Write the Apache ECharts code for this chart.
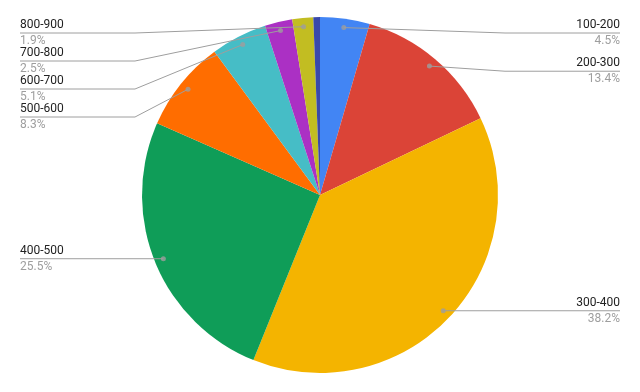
<!DOCTYPE html>
<html><head><meta charset="utf-8">
<script src="https://cdn.jsdelivr.net/npm/echarts@6/dist/echarts.min.js"></script>
<style>html,body{margin:0;padding:0;background:#fff}#c{width:640px;height:392px}</style>
</head><body><div id="c"></div>
<script>
const categories = ['100-200','200-300','300-400','400-500','500-600','600-700','700-800','800-900','900-1000'];
const values = [4.5, 13.4, 38.2, 25.5, 8.3, 5.1, 2.5, 1.9, 0.6];
const colors = ['#4285f4','#db4437','#f4b400','#0f9d58','#ff6d00','#46bdc6','#ab30c4','#c2bd22','#3949ab'];
const labeled = [true, true, true, true, true, true, true, true, false];

const CX = 320, CY = 195, R = 178, DOT = 0.95, TOP = 19;
const chart = echarts.init(document.getElementById('c'));
const total = values.reduce((a, b) => a + b, 0);
let acc = 0;
const dots = [];
const mids = [];
values.forEach((v, i) => {
  const mid = acc + v / 2; acc += v;
  mids.push(mid / total * 100);
  if (labeled[i]) dots.push([DOT, mid / total * 100]);
});

const pieBase = {
  type: 'pie',
  top: TOP, bottom: 0, left: 0, right: 0,
  center: [CX, CY - TOP],
  radius: R,
  startAngle: 90,
  clockwise: true,
  percentPrecision: 1,
  emphasis: { disabled: true },
  silent: true
};

chart.setOption({
  animation: false,
  polar: { center: [CX, CY], radius: R },
  angleAxis: { type: 'value', min: 0, max: 100, startAngle: 90, clockwise: true, show: false },
  radiusAxis: { type: 'value', min: 0, max: 1, show: false },
  series: [
    Object.assign({}, pieBase, {
      z: 2,
      data: categories.map((n, i) => ({ name: n, value: values[i], itemStyle: { color: colors[i] } })),
      label: { show: false },
      labelLine: { show: false }
    }),
    {
      type: 'scatter',
      coordinateSystem: 'polar',
      symbolSize: 5,
      itemStyle: { color: '#9e9e9e' },
      silent: true,
      z: 6,
      data: dots
    },
    Object.assign({}, pieBase, {
      z: 4,
      data: categories.map((n, i) => ({
        name: n, value: values[i],
        itemStyle: { color: 'rgba(0,0,0,0)' },
        label: { show: labeled[i] },
        labelLine: { show: labeled[i] }
      })),
      label: {
        alignTo: 'edge',
        edgeDistance: 20,
        minMargin: 0,
        formatter: '{n|{b}}\n{p|{d}%}',
        rich: {
          n: { fontSize: 12, color: '#222222', lineHeight: 16, fontFamily: 'Roboto' },
          p: { fontSize: 12, color: '#9e9e9e', lineHeight: 16, fontFamily: 'Roboto' }
        }
      },
      labelLine: { length: -(R * (1 - DOT)), length2: 0, lineStyle: { color: '#9e9e9e', width: 1 } },
      labelLayout: function (params) {
        const i = params.dataIndex;
        if (!labeled[i]) return;
        const d = chart.convertToPixel({ seriesIndex: 1 }, [DOT, mids[i]]);
        const rect = params.labelRect;
        const isLeft = rect.x + rect.width / 2 < CX;
        const ly = rect.y + rect.height / 2;
        const bendX = isLeft ? CX - R - 7 : CX + R + 7;
        const endX = isLeft ? rect.x : rect.x + rect.width;
        return { labelLinePoints: [d, [bendX, ly], [endX, ly]] };
      }
    })
  ]
});
</script>
</body></html>
